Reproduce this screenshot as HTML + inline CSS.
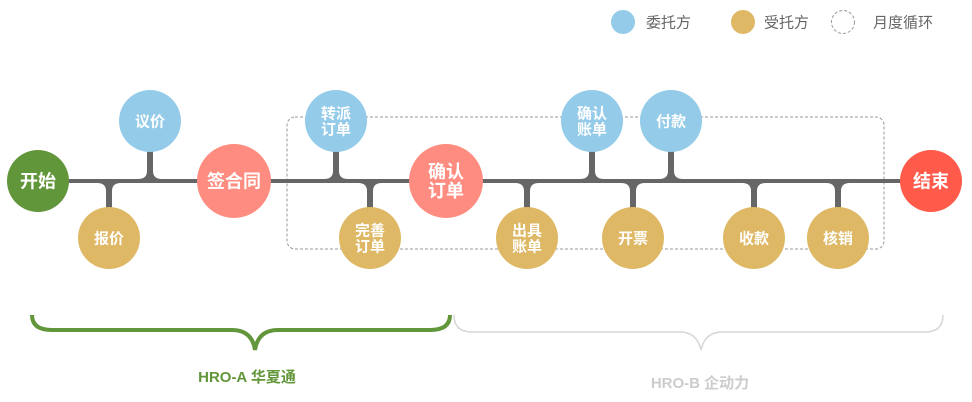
<!DOCTYPE html>
<html><head><meta charset="utf-8">
<style>
html,body{margin:0;padding:0;background:#fff;}
svg{display:block;}
text{font-family:"Liberation Sans","Noto Sans CJK SC",sans-serif;}
</style></head>
<body>
<svg id="chart" width="972" height="402" viewBox="0 0 972 402" xmlns="http://www.w3.org/2000/svg">
  <g>
    <circle cx="623" cy="22" r="12" fill="#93cbe9"/>
    <text x="646" y="27.5" font-size="15" fill="#666">委托方</text>
    <circle cx="743" cy="22" r="12" fill="#deb865"/>
    <text x="764" y="27.5" font-size="15" fill="#666">受托方</text>
    <circle cx="843" cy="22" r="11.5" fill="none" stroke="#999" stroke-width="1" stroke-dasharray="3,2"/>
    <text x="873" y="27.5" font-size="15" fill="#666">月度循环</text>
  </g>
  <rect x="287" y="117" width="597" height="132" rx="8" fill="none" stroke="#999" stroke-width="1" stroke-dasharray="3,2"/>
  <line x1="38" y1="181" x2="931" y2="181" stroke="#666" stroke-width="4"/>
  <g id="stems"></g>
  <g id="nodes"></g>
  <g>
    <path d="M32,315 Q32,330 52,330 L232,330 Q252,330 255,350 Q258,330 278,330 L430,330 Q450,330 450,315" fill="none" stroke="#62963a" stroke-width="4"/>
    <text x="247" y="382" font-size="15" font-weight="bold" fill="#62963a" text-anchor="middle">HRO-A 华夏通</text>
  </g>
  <g>
    <path d="M454,315 Q454,332 472,332 L680,332 Q697,332 701,350 Q705,332 722,332 L925,332 Q943,332 943,315" fill="none" stroke="#d6d6d6" stroke-width="1.5"/>
    <text x="700" y="388" font-size="15" font-weight="bold" fill="#ccc" text-anchor="middle">HRO-B 企动力</text>
  </g>
</svg>
<script>
var nodeLabels=["开始","议价","报价","签合同","转派|订单","完善|订单","确认|订单","出具|账单","确认|账单","付款","开票","收款","核销","结束"];
var nodeX=[38,150,109,234,336,370,446,527,592,671,633,754,838,931];
var nodeRole=["start","client","contractor","milestone","client","contractor","milestone","contractor","client","client","contractor","contractor","contractor","end"];
var ns="http://www.w3.org/2000/svg";
var colors={start:"#62963a",client:"#93cbe9",contractor:"#deb865",milestone:"#ff8c80",end:"#ff5a4a"};
var axisY=181;
var stems=document.getElementById("stems"),nodes=document.getElementById("nodes");
for(var i=0;i<nodeLabels.length;i++){
  var role=nodeRole[i],x=nodeX[i];
  var cy=axisY,r=31;
  if(role==="client")cy=121;
  if(role==="contractor")cy=238;
  if(role==="milestone")r=37;
  if(role==="client"||role==="contractor"){
    var d=(cy<axisY)?-1:1;
    var p=document.createElementNS(ns,"path");
    p.setAttribute("d","M"+(x-12)+","+(axisY+d*2)+" Q"+(x-3)+","+(axisY+d*2)+" "+(x-3)+","+(axisY+d*10)+" L"+(x-3)+","+(cy-d*25)+" L"+(x+3)+","+(cy-d*25)+" L"+(x+3)+","+(axisY+d*10)+" Q"+(x+3)+","+(axisY+d*2)+" "+(x+12)+","+(axisY+d*2)+" Z");
    p.setAttribute("fill","#666");
    
    
    stems.appendChild(p);
  }
  var g=document.createElementNS(ns,"g");
  
  
  var c=document.createElementNS(ns,"circle");
  c.setAttribute("cx",x);c.setAttribute("cy",cy);c.setAttribute("r",r);
  c.setAttribute("fill",colors[role]);
  
  
  g.appendChild(c);
  var lines=nodeLabels[i].split("|");
  var big=(role==="start"||role==="end"||role==="milestone");
  var fs=big?18:15;
  for(var j=0;j<lines.length;j++){
    var t=document.createElementNS(ns,"text");
    var yy=cy+fs*0.36+(j-(lines.length-1)/2)*(fs+1);
    t.setAttribute("x",x);t.setAttribute("y",yy);
    t.setAttribute("text-anchor","middle");
    t.setAttribute("font-size",fs);
    t.setAttribute("font-weight","bold");
    t.setAttribute("fill","#fff");
    t.textContent=lines[j];
    
    
    g.appendChild(t);
  }
  nodes.appendChild(g);
}
</script>
</body></html>
